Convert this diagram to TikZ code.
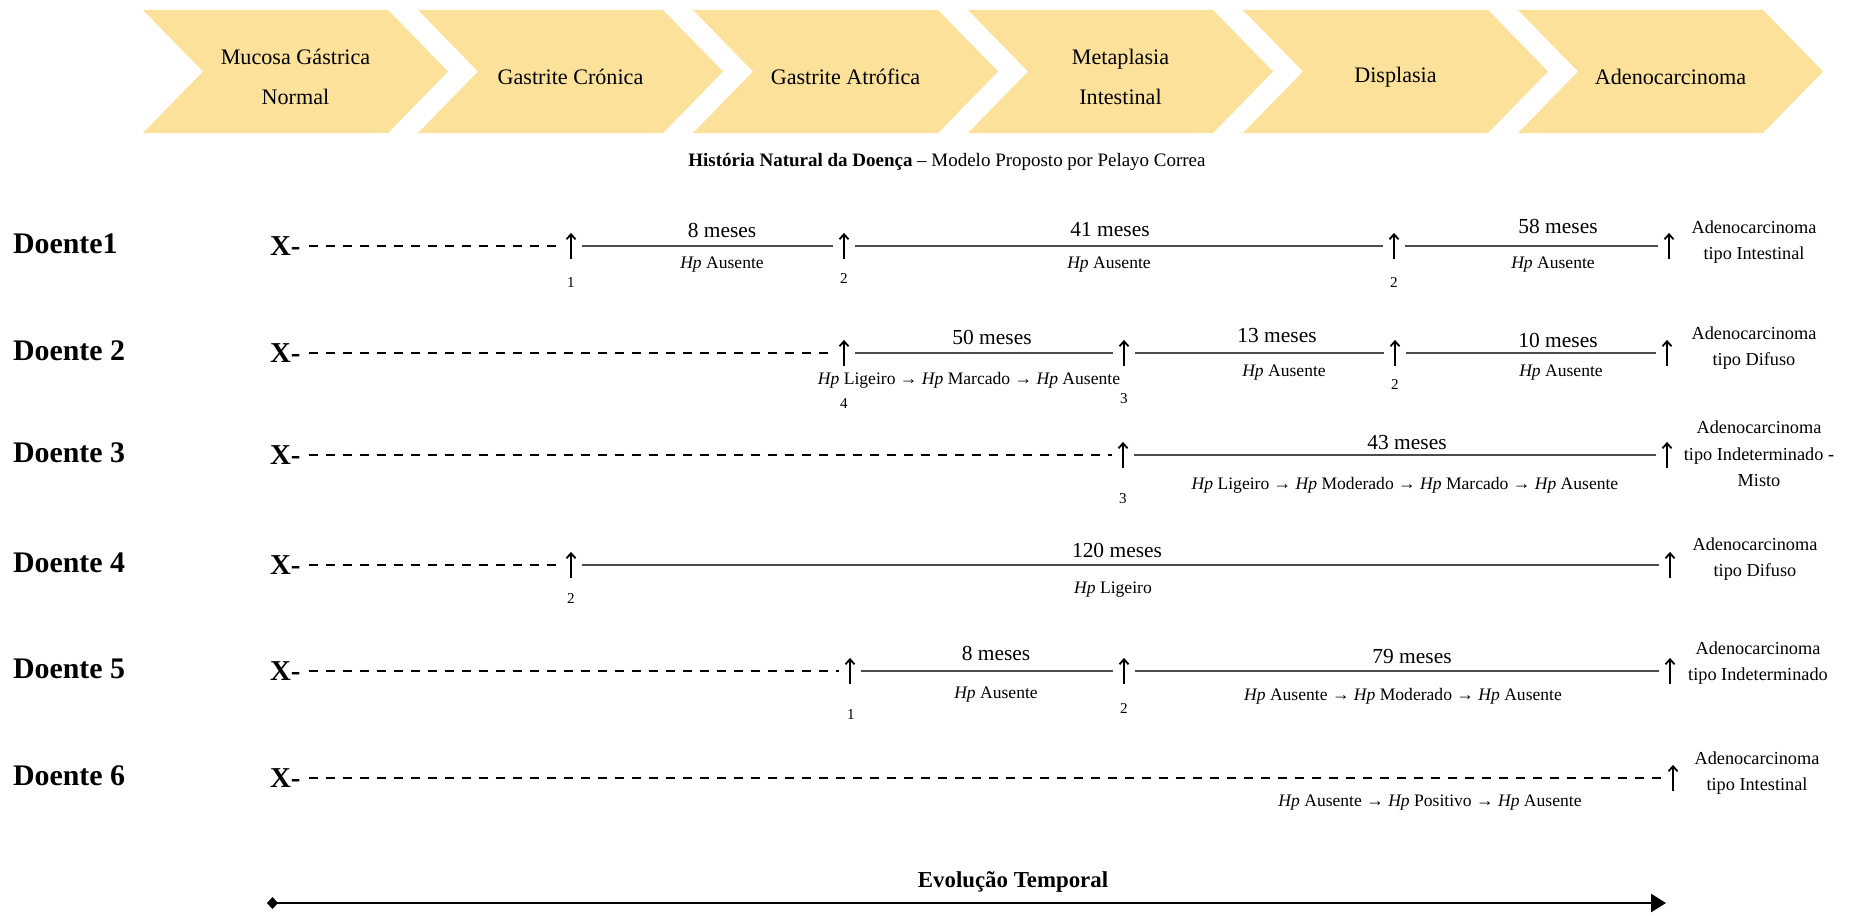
\documentclass[tikz,border=0pt]{standalone}
\usepackage{fontspec}
\setmainfont{Liberation Serif}
\usetikzlibrary{arrows.meta}
\definecolor{stagefill}{RGB}{252,225,154}
\newcommand{\Hp}{\textit{Hp}}

\begin{document}
\begin{tikzpicture}[x=1mm,y=1mm,
  stage/.style={align=center,font=\fontsize{63}{114}\selectfont},
  heading/.style={font=\fontsize{54}{60}\selectfont},
  patient/.style={anchor=west,font=\bfseries\fontsize{85}{90}\selectfont},
  start/.style={anchor=west,font=\bfseries\fontsize{82}{90}\selectfont},
  tick/.style={minimum width=22mm,minimum height=26mm,
    append after command={(\tikzlastnode.south) edge[-{Straight Barb[length=5mm,width=9mm]},line width=1.8mm] (\tikzlastnode.north)}},
  dur/.style={font=\fontsize{61}{70}\selectfont},
  hp/.style={font=\fontsize{50}{60}\selectfont},
  num/.style={font=\fontsize{43}{50}\selectfont},
  result/.style={align=center,font=\fontsize{52}{75}\selectfont},
  seg/.style={draw=black!70,line width=1.9mm},
  wait/.style={draw,line width=2.4mm,dash pattern=on 9mm off 8mm,dash phase=9mm},
  axis/.style={line width=2.7mm,{Diamond[length=11mm,width=12mm]}-{Triangle[length=15mm,width=18mm]}}]
\tikzstyle{every node}+=[inner sep=0pt]
\useasboundingbox (0,0) rectangle (1870,-916);
% stages of the cascade
\fill [stagefill] (143,-10) -- (388,-10) -- (448,-71.5) -- (388,-133) -- (143,-133) -- (203,-71.5) -- cycle;
\fill [stagefill] (418,-10) -- (663,-10) -- (723,-71.5) -- (663,-133) -- (418,-133) -- (478,-71.5) -- cycle;
\fill [stagefill] (693,-10) -- (938,-10) -- (998,-71.5) -- (938,-133) -- (693,-133) -- (753,-71.5) -- cycle;
\fill [stagefill] (968,-10) -- (1213,-10) -- (1273,-71.5) -- (1213,-133) -- (968,-133) -- (1028,-71.5) -- cycle;
\fill [stagefill] (1243,-10) -- (1488,-10) -- (1548,-71.5) -- (1488,-133) -- (1243,-133) -- (1303,-71.5) -- cycle;
\fill [stagefill] (1518,-10) -- (1763,-10) -- (1823,-71.5) -- (1763,-133) -- (1518,-133) -- (1578,-71.5) -- cycle;
\node [stage] (s1) at (295.5,-77) {Mucosa Gástrica\\Normal};
\node [stage] (s2) at (570.5,-77) {Gastrite Crónica};
\node [stage] (s3) at (845.5,-77) {Gastrite Atrófica};
\node [stage] (s4) at (1120.5,-77) {Metaplasia\\Intestinal};
\node [stage] (s5) at (1395.5,-77) {Displasia};
\node [stage] (s6) at (1670.5,-77) {Adenocarcinoma};
\node [heading] (title) at (947,-162) {\textbf{História Natural da Doença} – Modelo Proposto por Pelayo Correa};
% Doente 1
\node [patient] (d1) at (13,-244) {Doente1};
\node [start] (x1) at (270,-246) {X-};
\node [tick] (a11) at (571,-246) {};
\node [tick] (a12) at (844,-246) {};
\node [tick] (a13) at (1394,-246) {};
\node [tick] (a14) at (1669,-246) {};
\draw [wait] (x1) -- (a11);
\draw [seg] (a11) -- (a12);
\draw [seg] (a12) -- (a13);
\draw [seg] (a13) -- (a14);
\node [dur] at (722,-230) {8 meses};
\node [hp] at (722,-265) {\Hp{} Ausente};
\node [dur] at (1110,-230) {41 meses};
\node [hp] at (1109,-265) {\Hp{} Ausente};
\node [dur] at (1558,-226) {58 meses};
\node [hp] at (1553,-265) {\Hp{} Ausente};
\node [num] at (571,-283) {1};
\node [num] at (844,-278) {2};
\node [num] at (1394,-282) {2};
\node [result] (r1) at (1754,-242) {Adenocarcinoma\\tipo Intestinal};
% Doente 2
\node [patient] (d2) at (13,-351) {Doente 2};
\node [start] (x2) at (270,-353) {X-};
\node [tick] (a21) at (844,-353) {};
\node [tick] (a22) at (1124,-353) {};
\node [tick] (a23) at (1395,-353) {};
\node [tick] (a24) at (1667,-353) {};
\draw [wait] (x2) -- (a21);
\draw [seg] (a21) -- (a22);
\draw [seg] (a22) -- (a23);
\draw [seg] (a23) -- (a24);
\node [dur] at (992,-337) {50 meses};
\node [hp] at (969,-380) {\Hp{} Ligeiro → \Hp{} Marcado → \Hp{} Ausente};
\node [dur] at (1277,-336) {13 meses};
\node [hp] at (1284,-373) {\Hp{} Ausente};
\node [dur] at (1558,-340) {10 meses};
\node [hp] at (1561,-373) {\Hp{} Ausente};
\node [num] at (844,-404) {4};
\node [num] at (1124,-399) {3};
\node [num] at (1395,-384) {2};
\node [result] (r2) at (1754,-348) {Adenocarcinoma\\tipo Difuso};
% Doente 3
\node [patient] (d3) at (13,-453) {Doente 3};
\node [start] (x3) at (270,-455) {X-};
\node [tick] (a31) at (1123,-455) {};
\node [tick] (a32) at (1667,-455) {};
\draw [wait] (x3) -- (a31);
\draw [seg] (a31) -- (a32);
\node [dur] at (1407,-443) {43 meses};
\node [hp] at (1405,-485) {\Hp{} Ligeiro → \Hp{} Moderado → \Hp{} Marcado → \Hp{} Ausente};
\node [num] at (1123,-499) {3};
\node [result] (r3) at (1759,-454) {Adenocarcinoma\\tipo Indeterminado -\\Misto};
% Doente 4
\node [patient] (d4) at (13,-563) {Doente 4};
\node [start] (x4) at (270,-565) {X-};
\node [tick] (a41) at (571,-565) {};
\node [tick] (a42) at (1670,-565) {};
\draw [wait] (x4) -- (a41);
\draw [seg] (a41) -- (a42);
\node [dur] at (1117,-550) {120 meses};
\node [hp] at (1113,-590) {\Hp{} Ligeiro};
\node [num] at (571,-598) {2};
\node [result] (r4) at (1755,-559) {Adenocarcinoma\\tipo Difuso};
% Doente 5
\node [patient] (d5) at (13,-669) {Doente 5};
\node [start] (x5) at (270,-671) {X-};
\node [tick] (a51) at (850,-671) {};
\node [tick] (a52) at (1124,-671) {};
\node [tick] (a53) at (1670,-671) {};
\draw [wait] (x5) -- (a51);
\draw [seg] (a51) -- (a52);
\draw [seg] (a52) -- (a53);
\node [dur] at (996,-653) {8 meses};
\node [hp] at (996,-695) {\Hp{} Ausente};
\node [dur] at (1412,-656) {79 meses};
\node [hp] at (1403,-696) {\Hp{} Ausente → \Hp{} Moderado → \Hp{} Ausente};
\node [num] at (851,-715) {1};
\node [num] at (1124,-708) {2};
\node [result] (r5) at (1758,-663) {Adenocarcinoma\\tipo Indeterminado};
% Doente 6
\node [patient] (d6) at (13,-776) {Doente 6};
\node [start] (x6) at (270,-778) {X-};
\node [tick] (a61) at (1673,-778) {};
\draw [wait] (x6) -- (a61);
\node [hp] at (1430,-803) {\Hp{} Ausente → \Hp{} Positivo → \Hp{} Ausente};
\node [result] (r6) at (1757,-773) {Adenocarcinoma\\tipo Intestinal};
% time axis
\node [font=\bfseries\fontsize{65}{70}\selectfont] (evo) at (1013,-882) {Evolução Temporal};
\coordinate (t0) at (267,-903);
\coordinate (t1) at (1666,-903);
\draw [axis] (t0) -- (t1);
\end{tikzpicture}
\end{document}
